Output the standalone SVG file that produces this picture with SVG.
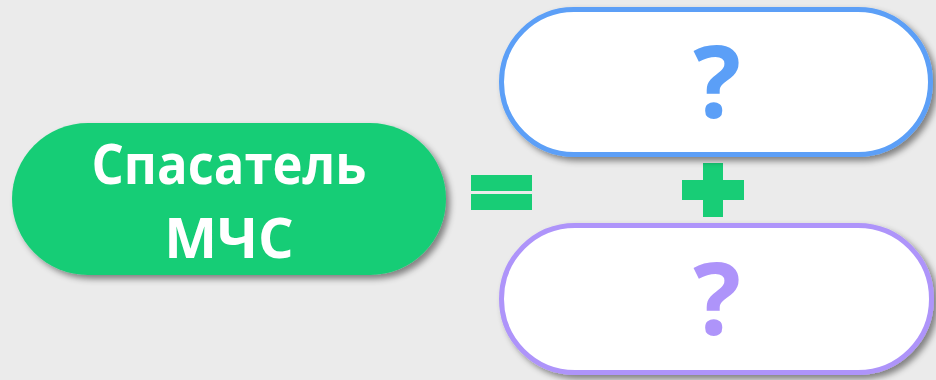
<svg xmlns="http://www.w3.org/2000/svg" width="936" height="380" viewBox="0 0 936 380">
  <defs>
    <filter id="sh" x="-10%" y="-20%" width="125%" height="150%">
      <feDropShadow dx="4" dy="4" stdDeviation="3" flood-color="#000" flood-opacity="0.45"/>
    </filter>
  </defs>
  <style>
    .lbl { font-family: "Open Sans", "Noto Sans", "Liberation Sans", sans-serif; font-weight: bold; text-anchor: middle; }
    .sym { fill: #18CD76; }
  </style>
  <rect width="936" height="380" fill="#EBEBEB"/>
  <g id="rescuer">
    <rect x="12" y="123" width="434" height="152" rx="76" fill="#18CD76" filter="url(#sh)"/>
    <text class="lbl" x="229" y="184" font-size="56" fill="#FFFFFF" textLength="275" lengthAdjust="spacingAndGlyphs">Спасатель</text>
    <text class="lbl" x="229" y="258" font-size="56" fill="#FFFFFF">МЧС</text>
  </g>
  <g id="symbols">
    <rect class="sym" x="471" y="175" width="61" height="16"/>
    <rect class="sym" x="471" y="194" width="61" height="16"/>
    <rect class="sym" x="703" y="163" width="20" height="54"/>
    <rect class="sym" x="682" y="180" width="62" height="20"/>
  </g>
  <g id="unknown1">
    <rect x="501.5" y="9.5" width="429" height="145" rx="72.5" fill="#FFFFFF" stroke="#5B9FF7" stroke-width="5" filter="url(#sh)"/>
    <text class="lbl" x="717" y="118" font-size="100" fill="#5B9FF7">?</text>
  </g>
  <g id="unknown2">
    <rect x="501.5" y="225.5" width="430" height="147" rx="73.5" fill="#FFFFFF" stroke="#AE94FA" stroke-width="5" filter="url(#sh)"/>
    <text class="lbl" x="717" y="335" font-size="100" fill="#AE94FA">?</text>
  </g>
</svg>
